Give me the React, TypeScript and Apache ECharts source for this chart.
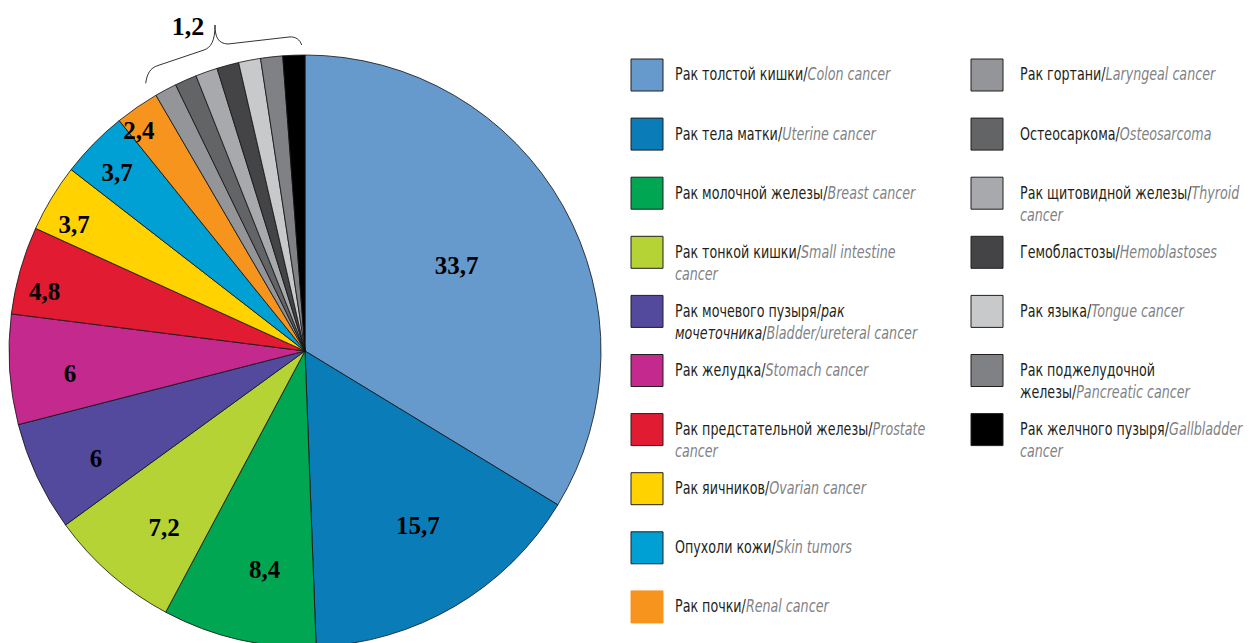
import React, { useEffect, useRef } from "react";
import * as echarts from "echarts";

const namesRu = [
  "Рак толстой кишки",
  "Рак тела матки",
  "Рак молочной железы",
  "Рак тонкой кишки",
  "Рак мочевого пузыря/",
  "Рак желудка",
  "Рак предстательной железы",
  "Рак яичников",
  "Опухоли кожи",
  "Рак почки",
  "Рак гортани",
  "Остеосаркома",
  "Рак щитовидной железы",
  "Гемобластозы",
  "Рак языка",
  "Рак поджелудочной\nжелезы",
  "Рак желчного пузыря",
];
const namesRuItalic = ["", "", "", "", "рак\nмочеточника", "", "", "", "", "", "", "", "", "", "", "", ""];
const namesEn = [
  "Colon cancer",
  "Uterine cancer",
  "Breast cancer",
  "Small intestine\ncancer",
  "Bladder/ureteral cancer",
  "Stomach cancer",
  "Prostate\ncancer",
  "Ovarian cancer",
  "Skin tumors",
  "Renal cancer",
  "Laryngeal cancer",
  "Osteosarcoma",
  "Thyroid\ncancer",
  "Hemoblastoses",
  "Tongue cancer",
  "Pancreatic cancer",
  "Gallbladder\ncancer",
];
const values = [33.7, 15.7, 8.4, 7.2, 6, 6, 4.8, 3.7, 3.7, 2.4, 1.2, 1.2, 1.2, 1.2, 1.2, 1.2, 1.2];
const groupLabel = "1,2";

const colors = [
  "#6699cc", "#0a7db9", "#00a651", "#b5d334", "#534a9e", "#c42a8e", "#e01b32",
  "#ffd200", "#00a0d4", "#f7941d", "#939598", "#636466", "#a7a9ac", "#444446",
  "#c8c9cb", "#7f8184", "#000000",
];

// style: radial distance of each value label from the centre (px), null = hidden
const labelRadius = [171, 205, 219, 223, 232, 233, 264, 260, 256, 273, null, null, null, null, null, null, null];
// style: small counter-clockwise turn of value labels (degrees)
const labelTurn = [0, -2.5, -2.5, -2.5, -2, -2, -3, -2.5, -1, -2.5, 0, 0, 0, 0, 0, 0, 0];

const FONT = "'Liberation Sans Narrow', 'DejaVu Sans Condensed', 'DejaVu Sans', sans-serif";

export default function App() {
  const ref = useRef<HTMLDivElement>(null);
  useEffect(() => {
    if (!ref.current) return;
    const chart = echarts.init(ref.current, null, { renderer: "svg" });
    const R = 296;
    const cx = 305;
    const cy = 351;
    const total = values.reduce((a, b) => a + b, 0);
    let acc = 0;
    const data = values.map((v, i) => {
      const midPie = ((acc + v / 2) / total) * Math.PI * 2;
      acc += v;
      const mid = midPie + (labelTurn[i] * Math.PI) / 180;
      const lr = labelRadius[i];
      const half = R / 2;
      const ox = lr == null ? 0 : Math.sin(mid) * lr - Math.sin(midPie) * half;
      const oy = lr == null ? 0 : -Math.cos(mid) * lr + Math.cos(midPie) * half;
      return {
        name: namesRu[i],
        value: v,
        itemStyle: { color: colors[i] },
        label: {
          show: lr != null,
          offset: [ox, oy],
        },
      };
    });

    const graphics: any[] = [];
    const colStart = 10;
    values.forEach((_, i) => {
      const col = i < colStart ? 0 : 1;
      const row = col === 0 ? i : i - colStart;
      const sx = col === 0 ? 631 : 971;
      const tx = col === 0 ? 675 : 1020;
      const yc = 75 + row * 59.1;
      graphics.push({
        type: "rect",
        shape: { x: sx, y: yc - 16, width: 32, height: 32 },
        style: { fill: colors[i], stroke: i === 9 ? colors[i] : "#231f20", lineWidth: 1 },
      });
      const txt =
        `{ru|${namesRu[i]}}` +
        (namesRuItalic[i] ? `{ri|${namesRuItalic[i]}}` : "") +
        `{ru|/}{en|${namesEn[i]}}`;
      graphics.push({
        type: "text",
        x: tx,
        y: yc - 11,
        scaleX: 0.83,
        style: {
          text: txt,
          verticalAlign: "top",
          align: "left",
          rich: {
            ru: { fontFamily: FONT, fontSize: 17, fill: "#231f20", lineHeight: 22 },
            ri: { fontFamily: FONT, fontSize: 17, fontStyle: "italic", fill: "#231f20", lineHeight: 22 },
            en: { fontFamily: FONT, fontSize: 17, fontStyle: "italic", fill: "#808285", lineHeight: 22 },
          },
        },
      });
    });

    graphics.push({
      type: "brace",
      x: 0,
      y: 0,
      style: { fill: "none", stroke: "#333333", lineWidth: 1 },
    });
    graphics.push({
      type: "text",
      x: 188,
      y: 26,
      style: {
        text: groupLabel,
        font: "bold 26px 'Liberation Serif', 'DejaVu Serif', serif",
        fill: "#000",
        align: "center",
        verticalAlign: "middle",
      },
    });

    chart.setOption({
      animation: false,
      backgroundColor: "#ffffff",
      series: [
        {
          type: "pie",
          center: [cx, cy],
          radius: [0, R],
          startAngle: 90,
          clockwise: true,
          avoidLabelOverlap: false,
          data,
          itemStyle: { borderColor: "#111111", borderWidth: 0.8 },
          emphasis: { disabled: true },
          label: {
            position: "inside",
            formatter: (p: any) => String(p.value).replace(".", ","),
            fontFamily: "'Liberation Serif', 'DejaVu Serif', serif",
            fontWeight: "bold",
            fontSize: 25,
            color: "#000",
          },
          labelLine: { show: false },
        },
      ],
      graphic: graphics,
    });
    return () => chart.dispose();
  }, []);
  return (
    <div
      ref={ref}
      style={{ position: "fixed", left: 0, top: 0, width: 1250, height: 643 }}
    />
  );
}

echarts.graphic.registerShape(
  "brace",
  echarts.graphic.extendPath(
    "M145.7,83.3 C147,74 150,68 158,65.5 L204,50 C211,47.5 215,41 215,25 C215,37 218,43.5 228,44 L289,37 C296,36.3 300,40 301.7,45",
    {}
  ) as any
);
